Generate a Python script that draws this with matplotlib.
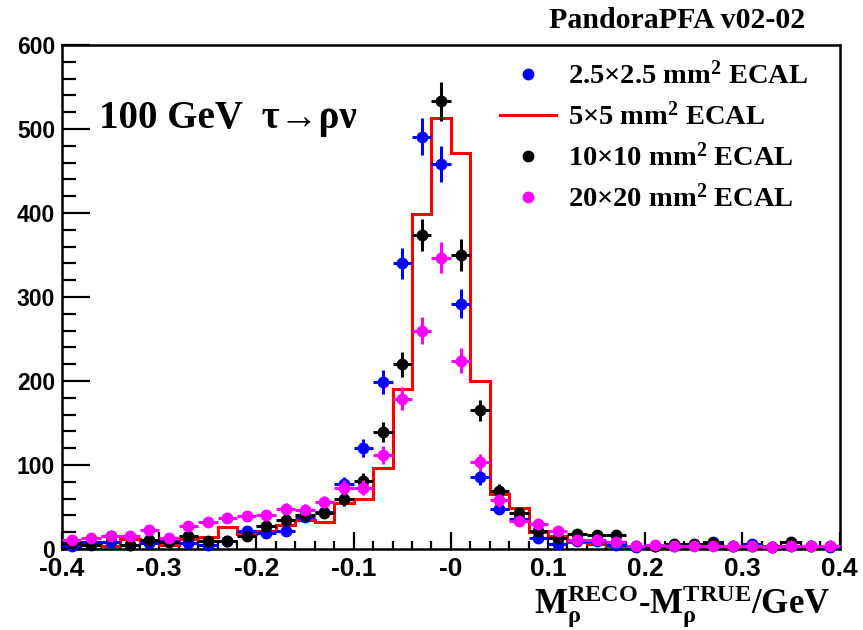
import numpy as np
import matplotlib
matplotlib.use("Agg")
import matplotlib.pyplot as plt
from matplotlib.ticker import MultipleLocator, FixedLocator, FixedFormatter
from matplotlib.lines import Line2D

plt.rcParams['mathtext.fontset'] = 'custom'
plt.rcParams['mathtext.rm'] = 'Liberation Serif:bold'
plt.rcParams['mathtext.it'] = 'Liberation Serif:bold'
plt.rcParams['mathtext.bf'] = 'Liberation Serif:bold'

# binning: 40 bins of 0.02 GeV between -0.4 and 0.4
edges = np.linspace(-0.4, 0.4, 41)
centres = 0.5 * (edges[:-1] + edges[1:])

# entries per bin
ecal_2p5 = [4, 8, 8, 5, 7, 10, 7, 5, 10, 22,
            19, 21, 38, 44, 77, 120, 199, 340, 491, 458,
            292, 86, 48, 36, 13, 6, 9, 10, 5, 2,
            3, 4, 5, 8, 3, 6, 2, 4, 3, 2]
ecal_5 = [5, 5, 4, 12, 8, 5, 12, 14, 26, 18,
          22, 28, 34, 32, 55, 60, 97, 190, 399, 513,
          472, 200, 66, 49, 20, 15, 8, 6, 4, 3,
          4, 3, 2, 3, 2, 2, 3, 2, 2, 2]
ecal_10 = [7, 5, 16, 5, 11, 8, 15, 10, 9, 16,
           27, 35, 40, 43, 59, 81, 139, 220, 374, 533,
           350, 165, 69, 43, 22, 13, 18, 17, 17, 3,
           3, 6, 6, 7, 3, 3, 2, 8, 4, 3]
ecal_20 = [11, 13, 15, 15, 23, 13, 27, 32, 37, 39,
           40, 48, 47, 56, 73, 73, 112, 179, 260, 347,
           224, 103, 58, 33, 30, 21, 11, 11, 8, 4,
           5, 4, 4, 3, 4, 3, 2, 4, 3, 4]

labels = ['2.5\u00d72.5 mm$^2$ ECAL', '5\u00d75 mm$^2$ ECAL',
          '10\u00d710 mm$^2$ ECAL', '20\u00d720 mm$^2$ ECAL']
xticks = [-0.4, -0.3, -0.2, -0.1, 0.0, 0.1, 0.2, 0.3, 0.4]
xticklabels = ['-0.4', '-0.3', '-0.2', '-0.1', '-0', '0.1', '0.2', '0.3', '0.4']
yticks = [0, 100, 200, 300, 400, 500, 600]

fig = plt.figure(figsize=(8.63, 6.3), dpi=100)
ax = fig.add_axes([0.0718, 0.1286, 0.9012, 0.8])

# red histogram
ax.stairs(ecal_5, edges, color='#ff0000', lw=2.2, zorder=2)

def points(vals, col, z):
    v = np.array(vals, dtype=float)
    ax.errorbar(centres, v, yerr=np.sqrt(v), xerr=0.01, fmt='o',
                color=col, ms=7.5, elinewidth=2.2, capsize=0,
                zorder=z, clip_on=False)

points(ecal_2p5, '#0000ff', 3)
points(ecal_10, 'black', 4)
points(ecal_20, '#ff00ff', 5)

ax.set_xlim(-0.4, 0.4)
ax.set_ylim(0, 600)

ax.xaxis.set_major_locator(FixedLocator(xticks))
ax.xaxis.set_major_formatter(FixedFormatter(xticklabels))
ax.xaxis.set_minor_locator(MultipleLocator(0.02))
ax.yaxis.set_major_locator(FixedLocator(yticks))
ax.yaxis.set_minor_locator(MultipleLocator(20))
ax.tick_params(which='both', direction='in', width=1.6, top=False, right=False)
ax.tick_params(axis='x', which='major', length=12, pad=6)
ax.tick_params(axis='x', which='minor', length=6)
ax.tick_params(axis='y', which='major', length=20, pad=5)
ax.tick_params(axis='y', which='minor', length=10)
for lab in ax.get_xticklabels():
    lab.set_fontfamily('Liberation Sans')
    lab.set_fontweight('bold')
    lab.set_fontsize(19)
for lab in ax.get_yticklabels():
    lab.set_fontfamily('Liberation Sans')
    lab.set_fontweight('bold')
    lab.set_fontsize(16.5)
for sp in ax.spines.values():
    sp.set_linewidth(1.8)

leg_handles = [Line2D([], [], ls='none', marker='o', color='#0000ff', ms=7.5),
               Line2D([], [], color='#ff0000', lw=2.2),
               Line2D([], [], ls='none', marker='o', color='black', ms=7.5),
               Line2D([], [], ls='none', marker='o', color='#ff00ff', ms=7.5)]
ax.legend(leg_handles, labels, loc='upper left', bbox_to_anchor=(0.548, 0.99),
          frameon=False, handlelength=2.0, handletextpad=0.4, labelspacing=0.44,
          borderaxespad=0.0,
          prop={'family': 'Liberation Serif', 'weight': 'bold', 'size': 20.5})

fig.text(0.785, 0.967, 'PandoraPFA v02-02', ha='center', va='center',
         family='Liberation Serif', weight='bold', fontsize=21.5)
fig.text(0.115, 0.812, '100 GeV  \u03c4\u2192\u03c1\u03bd', ha='left', va='center',
         family=['Liberation Serif', 'DejaVu Serif'], weight='bold', fontsize=28)
fig.text(0.962, 0.038, r'M$_{\rho}^{RECO}$-M$_{\rho}^{TRUE}$/GeV', ha='right', va='center',
         family='Liberation Serif', weight='bold', fontsize=25)

fig.savefig('out.png', dpi=100)
